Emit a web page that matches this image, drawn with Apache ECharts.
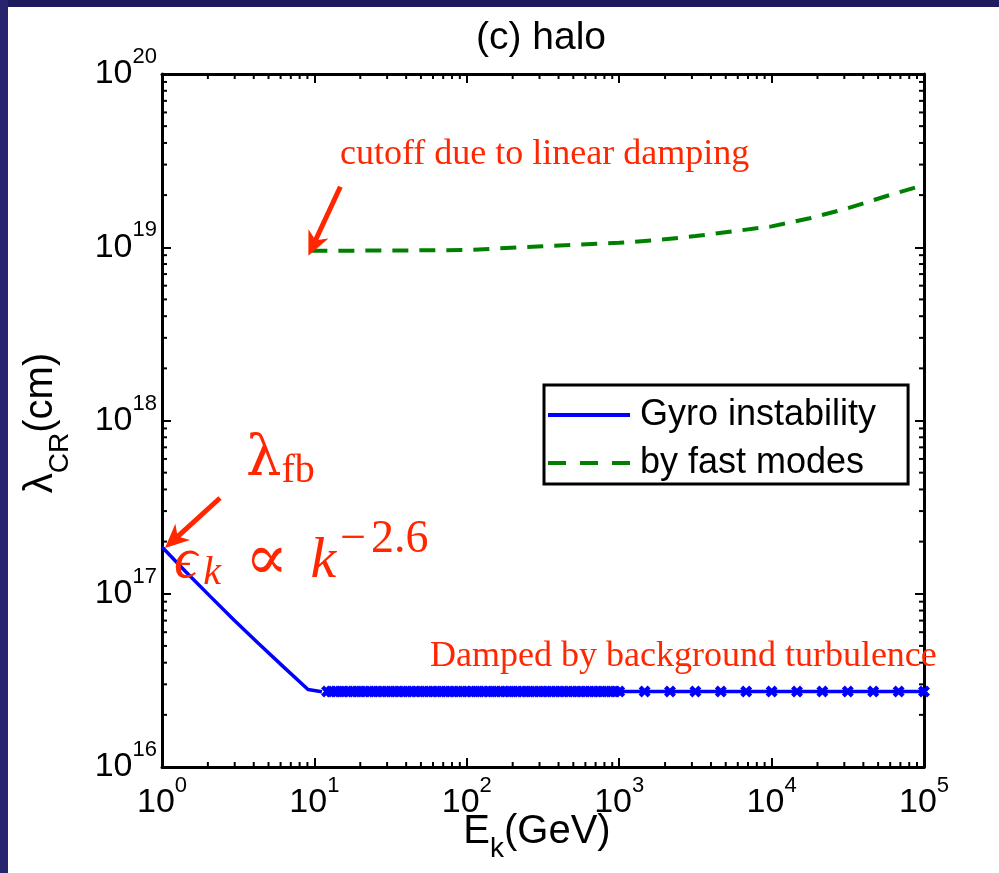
<!DOCTYPE html>
<html>
<head>
<meta charset="utf-8">
<script src="https://cdn.jsdelivr.net/npm/echarts@6/dist/echarts.min.js"></script>
<style>
  html, body { margin: 0; padding: 0; background: #ffffff; }
  #main { width: 999px; height: 873px; }
</style>
</head>
<body>
<div id="main"></div>
<script>
// Kinetic energy E_k (GeV) and critical wavelength lambda_CR (cm), halo phase

// Gyro instability branch (steep part, E < ~10 GeV)
const gyroEnergy = [1, 1.437, 2.065, 2.966, 4.265, 6.22, 9.08, 11.2];
const gyroLambda = [1.862e17, 1.336e17, 9.69e16, 7.05e16, 5.2e16, 3.81e16, 2.8e16, 2.72e16];

// Scattering by fast modes (starts at the linear-damping cutoff)
const fastEnergy = [9.55, 31.6, 100, 316, 1000, 1778, 3162, 5623, 10000, 17783, 31623, 56234, 100000];
const fastLambda = [9.55e18, 9.57e18, 9.64e18, 1.014e19, 1.06e19, 1.10e19, 1.16e19, 1.236e19, 1.32e19, 1.47e19, 1.68e19, 1.97e19, 2.29e19];

// Gyro branch damped by background turbulence (sampled energies, flat level)
const dampedEnergy = [
  12.1, 12.9, 13.8, 14.7, 15.6, 16.7, 17.8, 19.0, 20.2, 21.5, 23.0, 24.5, 26.1, 27.8, 29.7,
  31.6, 33.7, 35.9, 38.3, 40.8, 43.5, 46.4, 49.5, 52.7, 56.2, 59.9, 63.9, 68.1, 72.6, 77.4,
  82.5, 88.0, 93.8, 100, 107, 114, 121, 129, 138, 147, 156, 167, 178, 190, 202, 215, 230,
  245, 261, 278, 297, 316, 337, 359, 383, 408, 435, 464, 495, 527, 562, 599, 639, 681, 726,
  774, 825, 880, 938, 1000,
  1468, 2154, 3162, 4642, 6813, 10000, 14678, 21544, 31623, 46416, 68129, 100000
];
const dampedLevel = 2.73e16;

// Axis ranges and log minor-tick mantissas
const xRange = [1, 1e5];
const yRange = [1e16, 1e20];
const minorMantissas = [2, 3, 4, 5, 6, 7, 8, 9];

const seriesNames = ['Gyro instability', 'by fast modes', 'Damped by background turbulence'];

const SANS = "'Liberation Sans', Arial, Helvetica, sans-serif";
const SERIF = "'Liberation Serif', 'DejaVu Serif', serif";
const GREEK = "'DejaVu Serif', serif";
const RED = '#ff2600';
const BLUE = '#0000ff';
const GREEN = '#008000';

const pairs = (xs, ys) => xs.map((x, i) => [x, ys[i]]);

function decadesBetween(lo, hi) {
  const out = [];
  for (let p = Math.round(Math.log10(lo)); p < Math.round(Math.log10(hi)); p++) out.push(Math.pow(10, p));
  return out;
}
const xMinorTicks = [];
decadesBetween(xRange[0], xRange[1]).forEach(d => minorMantissas.forEach(m => xMinorTicks.push([m * d, yRange[0]])));
const yMinorTicks = [];
decadesBetween(yRange[0], yRange[1]).forEach(d => minorMantissas.forEach(m => yMinorTicks.push([xRange[0], m * d])));

const tickRich = {
  b: { fontFamily: SANS, fontSize: 34, lineHeight: 34, color: '#000', verticalAlign: 'middle' },
  e: { fontFamily: SANS, fontSize: 22, lineHeight: 22, color: '#000', verticalAlign: 'middle', padding: [0, 0, 34, 0] }
};
const powerLabel = v => '{b|10}{e|' + Math.round(Math.log10(v)) + '}';

const frameLine = { show: true, onZero: false, lineStyle: { color: '#000', width: 3 } };
const majorTick = { show: true, inside: true, length: 9, lineStyle: { color: '#000', width: 2 } };
const MINOR = 5;

function logAxis(range, position, withLabels, margin) {
  return {
    type: 'log', logBase: 10, min: range[0], max: range[1], position: position,
    axisLine: frameLine, axisTick: majorTick, splitLine: { show: false }, minorTick: { show: false },
    axisLabel: withLabels
      ? { show: true, formatter: powerLabel, rich: tickRich, margin: margin, showMinLabel: true, showMaxLabel: true }
      : { show: false }
  };
}

const X_MARK = 'path://M0,3 L3,0 L6,3 L9,0 L12,3 L9,6 L12,9 L9,12 L6,9 L3,12 L0,9 L3,6 Z';
// legend glyphs: a solid bar and a three-dash bar, sized to the legend item box
const SOLID_ICON = 'path://M0,0 L82,0 L82,4 L0,4 Z';
const DASH_ICON = 'path://M0,0 L18,0 L18,4 L0,4 Z M32,0 L50,0 L50,4 L32,4 Z M64,0 L82,0 L82,4 L64,4 Z';

const chart = echarts.init(document.getElementById('main'), null, { renderer: 'canvas', width: 999, height: 873 });

chart.setOption({
  animation: false,
  backgroundColor: '#ffffff',
  grid: { left: 162, top: 74, right: 75, bottom: 106, containLabel: false },
  xAxis: [logAxis(xRange, 'bottom', true, 19), logAxis(xRange, 'top', false, 0)],
  yAxis: [logAxis(yRange, 'left', true, 5), logAxis(yRange, 'right', false, 0)],
  legend: {
    data: [
      { name: seriesNames[0], icon: SOLID_ICON },
      { name: seriesNames[1], icon: DASH_ICON }
    ],
    orient: 'vertical', left: 544, top: 385,
    itemWidth: 82, itemHeight: 4, itemGap: 12,
    symbolKeepAspect: false,
    padding: [12, 32, 3, 4],
    backgroundColor: '#fff', borderColor: '#000', borderWidth: 3, borderRadius: 0,
    selectedMode: false,
    formatter: n => '{t|' + n + '}',
    textStyle: {
      fontFamily: SANS, fontSize: 36, color: '#000', lineHeight: 36,
      rich: { t: { fontFamily: SANS, fontSize: 36, color: '#000', lineHeight: 36, padding: [0, 0, 0, 5] } }
    }
  },
  series: [
    {
      name: seriesNames[0], type: 'line', data: pairs(gyroEnergy, gyroLambda),
      symbol: 'none', lineStyle: { color: BLUE, width: 3.5 }, itemStyle: { color: BLUE }, z: 3
    },
    {
      name: seriesNames[1], type: 'line', data: pairs(fastEnergy, fastLambda),
      symbol: 'none', lineStyle: { color: GREEN, width: 4, type: [16, 11] }, itemStyle: { color: GREEN }, z: 3
    },
    {
      name: seriesNames[2], type: 'line', data: dampedEnergy.map(e => [e, dampedLevel]),
      symbol: X_MARK, symbolSize: 12, showAllSymbol: true,
      lineStyle: { color: BLUE, width: 3.5 }, itemStyle: { color: BLUE }, z: 3
    },
    {
      // log minor ticks on bottom and top frame edges
      type: 'custom', silent: true, data: xMinorTicks, z: 4,
      renderItem: (params, api) => {
        const cs = params.coordSys;
        const x = api.coord([api.value(0), api.value(1)])[0];
        const st = { stroke: '#000', lineWidth: 2 };
        return { type: 'group', children: [
          { type: 'line', shape: { x1: x, y1: cs.y + cs.height, x2: x, y2: cs.y + cs.height - MINOR }, style: st },
          { type: 'line', shape: { x1: x, y1: cs.y, x2: x, y2: cs.y + MINOR }, style: st }
        ] };
      }
    },
    {
      // log minor ticks on left and right frame edges
      type: 'custom', silent: true, data: yMinorTicks, z: 4,
      renderItem: (params, api) => {
        const cs = params.coordSys;
        const y = api.coord([api.value(0), api.value(1)])[1];
        const st = { stroke: '#000', lineWidth: 2 };
        return { type: 'group', children: [
          { type: 'line', shape: { x1: cs.x, y1: y, x2: cs.x + MINOR, y2: y }, style: st },
          { type: 'line', shape: { x1: cs.x + cs.width, y1: y, x2: cs.x + cs.width - MINOR, y2: y }, style: st }
        ] };
      }
    }
  ]
});

// Arrow made of a thick shaft and a notched head
function arrow(tip, tail) {
  const dx = tip[0] - tail[0], dy = tip[1] - tail[1];
  const len = Math.hypot(dx, dy);
  const ux = dx / len, uy = dy / len, px = -uy, py = ux;
  const headLen = 24, half = 11, notch = 7;
  const bx = tip[0] - ux * headLen, by = tip[1] - uy * headLen;
  const nx = tip[0] - ux * (headLen - notch), ny = tip[1] - uy * (headLen - notch);
  return [
    { type: 'line', z: 100, shape: { x1: tail[0], y1: tail[1], x2: nx, y2: ny }, style: { stroke: RED, lineWidth: 5 } },
    { type: 'polygon', z: 100, shape: { points: [tip, [bx + px * half, by + py * half], [nx, ny], [bx - px * half, by - py * half]] }, style: { fill: RED } }
  ];
}

const grid = { gridIndex: 0 };
const fastStart = chart.convertToPixel(grid, [fastEnergy[0], fastLambda[0]]);
const gyroStart = chart.convertToPixel(grid, [gyroEnergy[0], gyroLambda[0]]);
const cutoffTip = [fastStart[0] - 3, fastStart[1] + 5];
const gyroTip = [gyroStart[0] + 3, gyroStart[1] + 1];

chart.setOption({
  graphic: [
    // slide backdrop strips
    { type: 'rect', z: 200, shape: { x: 0, y: 0, width: 999, height: 7 }, style: { fill: '#1f1b5e' } },
    { type: 'rect', z: 200, shape: { x: 0, y: 0, width: 8, height: 873 }, style: { fill: '#28246e' } },
    // title
    { type: 'text', z: 100, x: 541, y: 38, style: { text: '(c) halo', font: '39px ' + SANS, fill: '#000', align: 'center', verticalAlign: 'middle' } },
    // axis names
    { type: 'text', z: 100, x: 537, y: 832, style: {
      text: '{m|E}{s|k}{m|(GeV)}', align: 'center', verticalAlign: 'middle',
      rich: {
        m: { fontFamily: SANS, fontSize: 40, lineHeight: 40, fill: '#000', verticalAlign: 'middle' },
        s: { fontFamily: SANS, fontSize: 28, lineHeight: 28, fill: '#000', verticalAlign: 'middle', padding: [34, 0, 0, 0] }
      } } },
    { type: 'text', z: 100, x: 41, y: 423, rotation: Math.PI / 2, style: {
      text: '{m|λ}{s|CR}{m|(cm)}', align: 'center', verticalAlign: 'middle',
      rich: {
        m: { fontFamily: SANS, fontSize: 40, lineHeight: 40, fill: '#000', verticalAlign: 'middle' },
        s: { fontFamily: SANS, fontSize: 28, lineHeight: 28, fill: '#000', verticalAlign: 'middle', padding: [38, 0, 0, 0] }
      } } },
    // annotations
    { type: 'text', z: 100, x: 340, y: 155, style: { text: 'cutoff due to linear damping', font: '36px ' + SERIF, fill: RED, align: 'left', verticalAlign: 'middle' } },
    { type: 'text', z: 100, x: 430, y: 657, style: { text: 'Damped by background turbulence', font: '36px ' + SERIF, fill: RED, align: 'left', verticalAlign: 'middle' } },
    { type: 'text', z: 100, x: 246, y: 460, style: {
      text: '{l|λ}{s|fb}', align: 'left', verticalAlign: 'middle',
      rich: {
        l: { fontFamily: GREEK, fontSize: 56, lineHeight: 56, fill: RED, verticalAlign: 'middle' },
        s: { fontFamily: SERIF, fontSize: 40, lineHeight: 40, fill: RED, verticalAlign: 'middle', padding: [22, 0, 0, 0] }
      } } },
    { type: 'text', z: 100, x: 174, y: 562, style: {
      text: '{i|ϵ}{si|k}{n|∝}{i|k}{m|−}{sup|2.6}', align: 'left', verticalAlign: 'middle',
      rich: {
        i: { fontFamily: SERIF, fontStyle: 'italic', fontSize: 58, lineHeight: 58, fill: RED, verticalAlign: 'middle' },
        si: { fontFamily: SERIF, fontStyle: 'italic', fontSize: 40, lineHeight: 40, fill: RED, verticalAlign: 'middle', padding: [22, 0, 0, 6] },
        n: { fontFamily: SERIF, fontSize: 64, lineHeight: 64, fill: RED, verticalAlign: 'middle', padding: [0, 22, 0, 24] },
        m: { fontFamily: SERIF, fontSize: 46, lineHeight: 46, fill: RED, verticalAlign: 'middle', padding: [0, 5, 44, 4] },
        sup: { fontFamily: SERIF, fontSize: 46, lineHeight: 46, fill: RED, verticalAlign: 'middle', padding: [0, 0, 44, 0] }
      } } }
  ].concat(arrow(cutoffTip, [cutoffTip[0] + 32, cutoffTip[1] - 69]), arrow(gyroTip, [gyroTip[0] + 55, gyroTip[1] - 50]))
});
</script>
</body>
</html>
